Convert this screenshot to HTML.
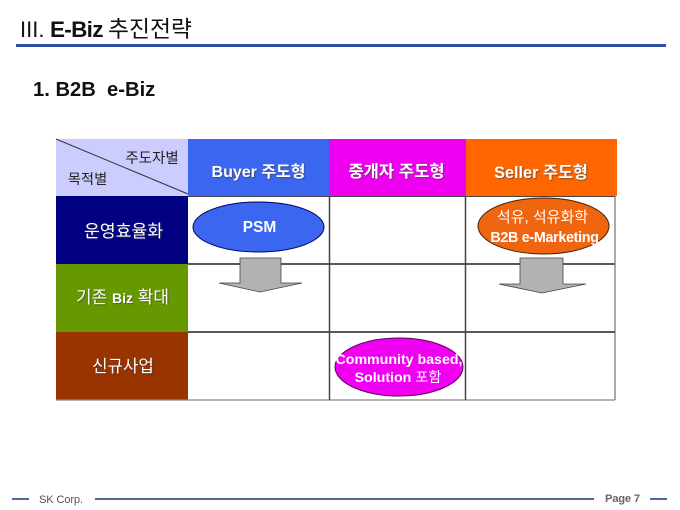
<!DOCTYPE html>
<html><head><meta charset="utf-8"><style>
html,body{margin:0;padding:0;background:#fff;width:680px;height:510px;overflow:hidden}
svg{display:block;filter:blur(0.35px)}
text{font-family:"Liberation Sans","Noto Sans CJK KR",sans-serif}
.s{filter:drop-shadow(1px 1px 0.5px rgba(60,60,60,0.6))}
</style></head><body>
<svg width="680" height="510" viewBox="0 0 680 510" xmlns="http://www.w3.org/2000/svg">
<rect width="680" height="510" fill="#fff"/>
<text x="20" y="37" font-size="22" fill="#111">III.</text>
<text x="50" y="37" font-size="22.500" font-weight="bold" fill="#111" letter-spacing="-0.700">E-Biz</text>
<text x="108" y="37" font-size="22.800" fill="#111">추진전략</text>
<rect x="16" y="44" width="650" height="3" fill="#2f4f9c"/>
<text x="33" y="96" font-size="20.200" font-weight="bold" fill="#111" xml:space="preserve">1. B2B  e-Biz</text>

<rect x="56" y="139" width="132" height="57" fill="#ccccff"/>
<rect x="188" y="139" width="141" height="57" fill="#3a66f0"/>
<rect x="329" y="139" width="137" height="57" fill="#f000f0"/>
<rect x="466" y="139" width="151" height="57" fill="#ff6600"/>
<rect x="56" y="196" width="132" height="68" fill="#000080"/>
<rect x="56" y="264" width="132" height="68" fill="#669900"/>
<rect x="56" y="332" width="132" height="68" fill="#993300"/>
<line x1="56" y1="139" x2="188" y2="194" stroke="#333" stroke-width="1"/>

<g stroke="#444" fill="none">
<line x1="188" y1="196.500" x2="615" y2="196.500" stroke-width="1"/>
<line x1="188" y1="264" x2="615" y2="264" stroke="#222" stroke-width="1.500"/>
<line x1="188" y1="332" x2="615" y2="332" stroke="#222" stroke-width="1.500"/>
<line x1="56" y1="400" x2="615" y2="400" stroke="#888" stroke-width="1.200"/>
<line x1="329.500" y1="196" x2="329.500" y2="400" stroke-width="1.500"/>
<line x1="465.500" y1="196" x2="465.500" y2="400" stroke-width="1.500"/>
<line x1="615" y1="196" x2="615" y2="400" stroke="#555" stroke-width="1"/>
</g>

<ellipse cx="258.500" cy="227" rx="65.500" ry="25" fill="#3a66f0" stroke="#000060" stroke-width="1"/>
<ellipse cx="543.500" cy="226" rx="65.500" ry="28" fill="#f0650f" stroke="#402000" stroke-width="1"/>
<ellipse cx="399" cy="367" rx="64" ry="29" fill="#f000f0" stroke="#600060" stroke-width="1"/>

<polygon points="240,258 281,258 281,283 302,283 260,292 219,283 240,283" fill="#b2b2b2" stroke="#444" stroke-width="0.800"/>
<polygon points="520,258 563,258 563,284 586,284 542,293 499,284 520,284" fill="#b2b2b2" stroke="#444" stroke-width="0.800"/>

<g text-anchor="middle" fill="#fff" font-weight="bold">
<g class="s">
<text x="258.500" y="177" font-size="16">Buyer 주도형</text>
<text x="396.500" y="177" font-size="16.600">중개자 주도형</text>
<text x="541" y="178" font-size="16.300">Seller 주도형</text>
</g>
<text x="259.500" y="232" font-size="15.500">PSM</text>
<text x="542.500" y="222" font-size="15" font-weight="normal">석유, 석유화학</text>
<text x="544.500" y="242" font-size="14.300" letter-spacing="-0.300">B2B e-Marketing</text>
<text x="399" y="364" font-size="14.200">Community based,</text>
<text x="398" y="382" font-size="14.200">Solution <tspan font-weight="normal">포함</tspan></text>
<g font-weight="normal" class="s">
<text x="123.500" y="237" font-size="17.200">운영효율화</text>
<text x="122.500" y="303" font-size="17">기존 <tspan font-weight="bold" font-size="14">Biz</tspan> 확대</text>
<text x="123" y="372" font-size="16.800">신규사업</text>
</g>
</g>
<text x="152" y="163" font-size="14.500" fill="#222" text-anchor="middle">주도자별</text>
<text x="87.500" y="184" font-size="14.300" fill="#222" text-anchor="middle">목적별</text>

<g fill="#4d6aa0">
<rect x="12" y="498" width="17" height="2"/>
<rect x="95" y="498" width="499" height="2"/>
<rect x="650" y="498" width="17" height="2"/>
</g>
<text x="39" y="503" font-size="11.200" fill="#555" letter-spacing="-0.200">SK Corp.</text>
<text x="605" y="502" font-size="11.200" font-weight="bold" fill="#666" letter-spacing="-0.200">Page 7</text>
</svg>
</body></html>
